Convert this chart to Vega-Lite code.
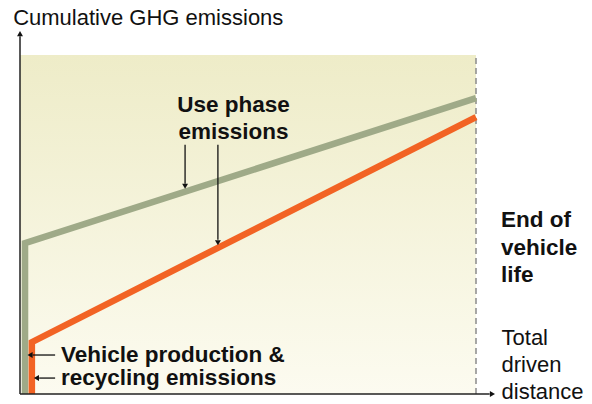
{
  "$schema": "https://vega.github.io/schema/vega-lite/v6.json",
  "width": 456,
  "height": 339,
  "autosize": {"type": "none"},
  "padding": {"left": 20, "top": 55, "right": 116, "bottom": 10},
  "background": "white",
  "config": {"view": {"stroke": null}, "font": "Liberation Sans"},
  "encoding": {
    "x": {"type": "quantitative", "scale": {"domain": [0, 100], "nice": false, "zero": false}, "axis": null},
    "y": {"type": "quantitative", "scale": {"domain": [0, 100], "nice": false, "zero": false}, "axis": null}
  },
  "layer": [
    {
      "data": {"values": [{"x0": 0, "x1": 100, "y0": 0, "y1": 100}]},
      "mark": {"type": "rect", "clip": false, "fill": {"gradient": "linear", "x1": 0, "y1": 0, "x2": 0, "y2": 1, "stops": [{"offset": 0, "color": "#eeecc8"}, {"offset": 1, "color": "#fcfbf0"}]}},
      "encoding": {"x": {"field": "x0"}, "x2": {"field": "x1"}, "y": {"field": "y0"}, "y2": {"field": "y1"}}
    },
    {
      "data": {"values": [{"x": 100, "ya": 0, "yb": 100}]},
      "mark": {"type": "rule", "stroke": "#8a8a8a", "strokeWidth": 1.5, "strokeDash": [6, 4], "clip": false},
      "encoding": {"x": {"field": "x"}, "y": {"field": "ya"}, "y2": {"field": "yb"}}
    },
    {
      "data": {"values": [
        {"series": "Conventional", "order": 0, "d": 1.1, "e": 0},
        {"series": "Conventional", "order": 1, "d": 1.1, "e": 44.5},
        {"series": "Conventional", "order": 2, "d": 100, "e": 87.3},
        {"series": "Alternative", "order": 0, "d": 2.6, "e": 0},
        {"series": "Alternative", "order": 1, "d": 2.6, "e": 15.3},
        {"series": "Alternative", "order": 2, "d": 100, "e": 81.7}
      ]},
      "mark": {"type": "line", "strokeWidth": 6.5, "strokeJoin": "miter", "strokeCap": "butt", "clip": false},
      "encoding": {
        "x": {"field": "d"},
        "y": {"field": "e"},
        "order": {"field": "order", "type": "quantitative"},
        "color": {"field": "series", "type": "nominal", "scale": {"domain": ["Conventional", "Alternative"], "range": ["#9faa88", "#f26324"]}, "legend": null}
      }
    },
    {
      "data": {"values": [
        {"xa": 0, "xb": 103, "ya": 0, "yb": 0},
        {"xa": 0, "xb": 0, "ya": 0, "yb": 105.5}
      ]},
      "mark": {"type": "rule", "stroke": "#222222", "strokeWidth": 1.5, "clip": false},
      "encoding": {"x": {"field": "xa"}, "x2": {"field": "xb"}, "y": {"field": "ya"}, "y2": {"field": "yb"}}
    },
    {
      "data": {"values": [
        {"xa": 36.2, "xb": 36.2, "ya": 73.5, "yb": 62.0},
        {"xa": 43.4, "xb": 43.4, "ya": 73.5, "yb": 45.5},
        {"xa": 7.7, "xb": 2.8, "ya": 11.5, "yb": 11.5},
        {"xa": 7.7, "xb": 4.2, "ya": 4.7, "yb": 4.7}
      ]},
      "mark": {"type": "rule", "stroke": "#111111", "strokeWidth": 1.3, "clip": false},
      "encoding": {"x": {"field": "xa"}, "x2": {"field": "xb"}, "y": {"field": "ya"}, "y2": {"field": "yb"}}
    },
    {
      "data": {"values": [
        {"x": 36.2, "y": 61.3, "s": "triangle-down"},
        {"x": 43.4, "y": 44.6, "s": "triangle-down"},
        {"x": 2.2, "y": 11.5, "s": "triangle-left"},
        {"x": 3.6, "y": 4.7, "s": "triangle-left"},
        {"x": 103.6, "y": 0, "s": "triangle-right"},
        {"x": 0, "y": 106.3, "s": "triangle-up"}
      ]},
      "mark": {"type": "point", "filled": true, "fill": "#111111", "opacity": 1, "size": 35, "strokeWidth": 0, "clip": false},
      "encoding": {"x": {"field": "x"}, "y": {"field": "y"}, "shape": {"field": "s", "type": "nominal", "scale": null}}
    },
    {
      "data": {"values": [
        {"x": 46.8, "y": 85.3, "t": "Use phase"},
        {"x": 46.8, "y": 77.3, "t": "emissions"}
      ]},
      "mark": {"type": "text", "font": "Liberation Sans", "fontWeight": "bold", "fontSize": 22.5, "align": "center", "baseline": "middle", "color": "#111111", "clip": false},
      "encoding": {"x": {"field": "x"}, "y": {"field": "y"}, "text": {"field": "t"}}
    },
    {
      "data": {"values": [
        {"x": 9.0, "y": 11.5, "t": "Vehicle production &"},
        {"x": 9.0, "y": 4.7, "t": "recycling emissions"},
        {"x": 105.5, "y": 51.3, "t": "End of"},
        {"x": 105.5, "y": 43.2, "t": "vehicle"},
        {"x": 105.5, "y": 35.1, "t": "life"}
      ]},
      "mark": {"type": "text", "font": "Liberation Sans", "fontWeight": "bold", "fontSize": 22.5, "align": "left", "baseline": "middle", "color": "#111111", "clip": false},
      "encoding": {"x": {"field": "x"}, "y": {"field": "y"}, "text": {"field": "t"}}
    },
    {
      "data": {"values": [
        {"x": 105.6, "y": 16.5, "t": "Total"},
        {"x": 105.6, "y": 8.6, "t": "driven"},
        {"x": 105.6, "y": 0.7, "t": "distance"},
        {"x": -1.5, "y": 110.9, "t": "Cumulative GHG emissions"}
      ]},
      "mark": {"type": "text", "font": "Liberation Sans", "fontSize": 22, "align": "left", "baseline": "middle", "color": "#111111", "clip": false},
      "encoding": {"x": {"field": "x"}, "y": {"field": "y"}, "text": {"field": "t"}}
    }
  ]
}
